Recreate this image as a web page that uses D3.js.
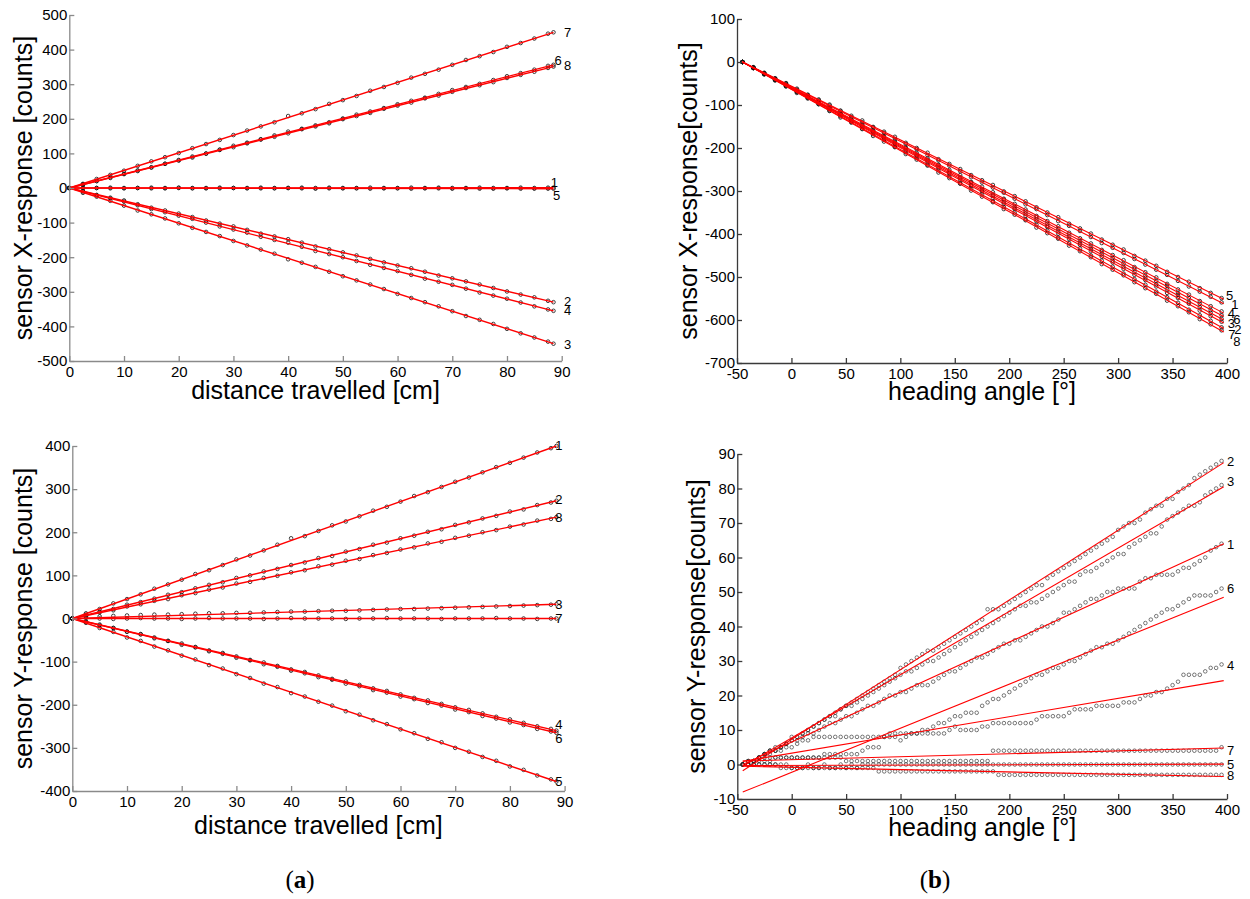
<!DOCTYPE html>
<html><head><meta charset="utf-8">
<script src="https://cdn.jsdelivr.net/npm/d3@7"></script>
<style>body{margin:0;background:#fff}svg{display:block}</style>
</head><body>
<svg id="c" width="1250" height="899"></svg>
<script>
// ---------- DATA ----------
const seriesNames = ["1","2","3","4","5","6","7","8"];

// panel (a) x samples: distance travelled [cm]
const distX = [0,2.5,5,7.5,10,12.5,15,17.5,20,22.5,25,27.5,30,32.5,35,37.5,40,42.5,45,47.5,50,52.5,55,57.5,60,62.5,65,67.5,70,72.5,75,77.5,80,82.5,85,87.5,88.5];

// (a) top: sensor X-response [counts], series 1..8
const aTopY = [
 [0,1,0,1,0,0,1,0,1,0, 0,1,0,0,1,0,0,1,0,1, 0,0,1,0,0,1,0,1,0,0, 1,0,0,1,0,1, 1],
 [0,-9,-20,-28,-36,-47,-57,-65,-74,-84, -94,-103,-111,-121,-132,-140,-148,-158,-169,-177, -186,-195,-205,-215,-224,-232,-242,-253,-261,-270, -279,-289,-299,-308,-316,-326, -330],
 [0,-14,-25,-37,-51,-65,-76,-88,-102,-115, -127,-139,-153,-166,-178,-190,-206,-216,-228,-242, -255,-267,-279,-292,-306,-318,-330,-342,-356,-370, -381,-393,-407,-420,-432,-444, -450],
 [0,-10,-21,-30,-39,-50,-61,-70,-80,-89, -100,-111,-120,-129,-141,-150,-158,-170,-182,-191, -200,-211,-222,-231,-240,-251,-262,-271,-280,-291, -302,-311,-320,-331,-342,-351, -355],
 [0,-1,0,-1,-1,0,-1,-1,0,-1, -1,-1,0,-1,-1,-1,0,-1,-2,-1, -1,-1,-2,-1,-1,-2,-1,-1,-2,-1, -2,-2,-1,-2,-2,-2, -2],
 [0,11,20,31,40,51,60,70,81,91, 100,111,122,131,141,152,163,171,181,190, 201,212,221,231,242,252,261,272,283,292, 301,312,323,332,342,353, 356],
 [0,12,26,38,50,64,77,89,101,115, 127,139,153,166,178,190,208,216,228,243, 254,266,281,292,304,319,330,342,356,370, 381,393,408,419,432,446, 450],
 [0,9,20,29,41,49,59,70,79,88, 99,110,118,129,140,148,158,170,178,187, 199,208,217,229,238,247,259,267,278,289, 297,306,318,327,336,347, 351]
];
// fitted lines (value at 0 cm, value at 88.5 cm)
const aTopFit = [[0,1],[0,-330],[0,-450],[0,-355],[0,-2],[0,356],[0,450],[0,351]];
const aTopLabelPos = [[88.0,16],[90.4,-327],[90.4,-451],[90.4,-355],[88.4,-23],[88.7,368],[90.4,448],[90.4,353]];

// (a) bottom: sensor Y-response [counts]
const aBotY = [
 [0,12,22,35,45,56,69,79,90,103, 112,124,137,146,158,171,186,191,203,216, 225,237,250,259,271,284,293,305,317,327, 339,351,361,373,385,395, 400],
 [0,9,16,22,32,38,46,55,61,70, 78,84,94,100,109,115,124,130,140,145, 155,161,171,176,186,192,201,207,217,223, 232,238,248,253,263,269, 273],
 [0,4,5,6,7,8,9,9,10,11, 12,12,13,13,14,15,16,16,17,18, 18,19,20,21,22,22,23,24,25,26, 27,28,29,30,31,32, 33],
 [0,-8,-14,-22,-30,-36,-44,-52,-58,-66, -74,-80,-88,-96,-102,-110,-118,-124,-132,-140, -146,-154,-162,-168,-176,-184,-190,-198,-206,-212, -220,-228,-234,-242,-250,-256, -260],
 [0,-10,-22,-31,-44,-52,-65,-74,-86,-95, -108,-116,-129,-138,-151,-159,-173,-181,-193,-202, -215,-223,-236,-245,-257,-266,-279,-287,-300,-309, -321,-330,-343,-351,-364,-373, -378],
 [0,-7,-16,-22,-31,-37,-46,-52,-61,-67, -76,-82,-91,-97,-106,-112,-121,-127,-136,-142, -151,-157,-166,-172,-181,-187,-196,-202,-211,-217, -226,-232,-241,-247,-256,-262, -265],
 [0,1,0,-1,0,1,0,0,-1,0, 1,0,0,0,-1,0,1,0,0,0, -1,0,0,1,0,0,0,-1,0,0, 0,1,0,0,-1,0, 0],
 [0,6,14,19,28,33,41,45,54,59, 67,72,81,85,94,99,107,112,121,125, 134,138,147,152,160,165,174,178,187,192, 200,205,213,218,227,231, 235]
];
const aBotFit = [[0,400],[0,273],[0,33],[0,-260],[0,-378],[0,-265],[0,0],[0,235]];
const aBotLabelPos = [[88.3,402],[88.3,275],[88.3,33],[88.3,-246],[88.3,-377],[88.3,-278],[88.3,-1],[88.3,235]];

// (b) top: heading angle [deg] samples
const headXTop = [-45,-35,-25,-15,-5,5,15,25,35,45,55,65,75,85,95,105,115,125,135,145,155,165,175,185,195,205,215,225,235,245,255,265,275,285,295,305,315,325,335,345,355,365,375,385,395];
const bTopY = [
 [0,-13,-26,-38,-50,-64,-77,-89,-101,-114, -128,-140,-152,-165,-179,-191,-203,-217,-229,-241, -254,-268,-280,-292,-304,-318,-331,-342,-356,-370, -381,-393,-407,-421,-432,-444,-458,-471,-483,-495, -509,-522,-534,-546,-559],
 [0,-14,-28,-41,-54,-69,-83,-96,-110,-123, -138,-151,-164,-179,-193,-206,-219,-234,-247,-260, -276,-288,-301,-317,-330,-342,-358,-371,-384,-399, -412,-425,-440,-453,-466,-481,-495,-507,-522,-537, -549,-562,-578,-591,-604],
 [0,-14,-27,-40,-55,-68,-81,-96,-109,-121, -136,-150,-163,-175,-190,-205,-217,-230,-245,-258, -271,-286,-299,-311,-326,-340,-353,-366,-381,-394, -406,-421,-435,-447,-462,-476,-488,-502,-517,-529, -542,-558,-570,-583,-597],
 [0,-13,-27,-40,-52,-66,-80,-92,-106,-120, -131,-145,-160,-172,-184,-199,-211,-224,-239,-251, -263,-279,-290,-303,-318,-330,-343,-358,-370,-382, -397,-410,-422,-437,-449,-461,-477,-489,-501,-516, -529,-541,-556,-568,-580],
 [0,-12,-25,-38,-49,-62,-76,-87,-99,-113, -125,-136,-151,-162,-174,-188,-200,-211,-226,-237, -249,-263,-275,-286,-301,-312,-324,-338,-350,-361, -376,-387,-399,-413,-425,-436,-451,-462,-474,-488, -500,-511,-526,-537,-549],
 [0,-13,-27,-41,-53,-67,-81,-94,-106,-121, -135,-147,-160,-175,-188,-200,-215,-228,-240,-255, -268,-280,-296,-308,-320,-336,-348,-361,-376,-388, -401,-416,-429,-441,-456,-469,-481,-497,-509,-521, -537,-549,-562,-577,-589],
 [0,-14,-28,-43,-56,-70,-83,-98,-113,-126, -139,-155,-168,-181,-197,-210,-223,-239,-252,-266, -282,-294,-308,-324,-337,-350,-366,-378,-392,-408, -421,-434,-450,-462,-476,-492,-505,-518,-534,-547, -560,-576,-589,-602,-617],
 [0,-14,-29,-42,-57,-72,-85,-98,-114,-129, -141,-156,-172,-185,-198,-214,-227,-241,-257,-270, -283,-299,-313,-326,-342,-355,-368,-385,-398,-411, -427,-440,-454,-470,-483,-496,-512,-526,-539,-555, -568,-582,-598,-610,-624]
];
// fitted lines (value at -45 deg, value at 397 deg)
const bTopFit = [[0,-562],[0,-607],[0,-600],[0,-584],[0,-552],[0,-592],[0,-620],[0,-628]];
const bTopLabelPos = [[404,-563],[406.7,-623],[400.6,-607],[400.6,-584],[399,-542],[405.8,-598],[401.2,-633],[405.8,-651]];

// (b) bottom samples
const headXBot = [-45,-40,-35,-30,-25,-20,-15,-10,-5,0,5,10,15,20,25,30,35,40,45,50,55,60,65,70,75,80,85,90,95,100,105,110,115,120,125,130,135,140,145,150,155,160,165,170,175,180,185,190,195,200,205,210,215,220,225,230,235,240,245,250,255,260,265,270,275,280,285,290,295,300,305,310,315,320,325,330,335,340,345,350,355,360,365,370,375,380,385,390,395];
const bBotY = [
 [0,1,1,2,3,4,4,5,6,7, 7,8,9,9,10,11,12,12,13,14, 14,15,16,17,17,18,19,20,20,21, 21,22,23,23,23,24,25,26,27,27, 28,29,30,31,31,32,33,34,35,35, 36,36,37,38,39,40,40,41,42,44, 44,45,46,47,48,48,49,50,50,51, 51,51,51,53,54,54,55,55,55,55, 56,57,57,58,59,60,62,63,64],
 [0,0,1,2,3,4,5,5,6,7, 8,9,10,11,12,13,14,15,16,17, 18,19,20,21,22,23,24,25,26,28, 29,30,31,32,33,33,34,35,36,37, 38,39,40,41,42,45,45,45,46,47, 48,49,50,51,52,52,54,55,56,57, 58,59,60,61,62,63,64,65,66,68, 69,70,70,71,73,74,75,75,77,77, 79,80,81,83,84,85,86,87,88],
 [0,0,1,2,3,4,4,5,6,8, 8,9,10,11,12,13,14,14,16,17, 17,18,19,20,21,22,23,24,25,26, 27,27,28,29,30,30,31,32,33,34, 35,36,37,38,39,40,41,42,43,44, 45,46,46,47,47,48,49,50,51,52, 53,53,55,56,56,57,58,59,60,61, 61,63,64,65,66,67,67,69,71,72, 73,74,75,75,76,78,79,80,81],
 [0,1,1,2,3,3,4,4,5,5, 6,7,7,8,8,8,8,8,8,8, 8,8,8,8,8,8,8,9,9,9, 9,9,9,9,9,9,9,9,10,11, 10,10,10,10,11,11,12,12,12,12, 12,12,12,12,13,14,14,14,14,14, 15,16,16,16,16,17,17,17,17,17, 18,18,18,19,20,20,21,21,22,23, 24,26,26,26,26,27,28,28,29],
 [0,0,0,0,0,0,0,0,0,-1, -1,-1,0,-1,-1,0,-1,-1,0,-1, 0,-1,0,0,0,0,0,0,0,0, 0,0,0,0,0,0,0,0,0,0, 0,0,0,0,0,0,0,0,0,0, 0,0,0,0,0,0,0,0,0,0, 0,0,0,0,0,0,0,0,0,0, 0,0,0,0,0,0,0,0,0,0, 0,0,0,0,0,0,0,0,0],
 [0,0,0,1,1,1,2,2,2,2, 2,2,2,2,2,3,3,3,3,3, 3,3,4,5,5,5,8,8,8,7, 8,9,9,10,10,11,12,12,13,14, 14,15,15,15,17,18,19,19,20,21, 22,23,24,25,26,26,27,28,28,29, 30,30,31,32,33,34,34,35,35,36, 37,38,39,40,41,42,43,44,45,45, 46,47,48,49,49,49,49,50,51],
 [0,1,1,2,2,2,2,2,2,2, 2,2,2,2,2,2,2,2,2,1, 1,1,1,1,1,1,1,1,1,1, 1,1,1,1,1,1,1,1,1,1, 1,1,1,1,1,1,4,4,4,4, 4,4,4,4,4,4,4,4,4,4, 4,4,4,4,4,4,4,4,4,4, 4,4,4,4,4,4,4,4,4,4, 4,4,4,4,4,4,4,4,5],
 [0,0,0,0,0,0,0,-1,-1,-1, -1,-1,-1,-1,-1,-1,-1,-1,-1,-1, -1,-1,-1,-1,-1,-2,-2,-2,-2,-2, -2,-2,-2,-2,-2,-2,-2,-2,-2,-2, -2,-2,-2,-2,-2,-2,-2,-3,-3,-3, -3,-3,-3,-3,-3,-3,-3,-3,-3,-3, -3,-3,-3,-3,-3,-3,-3,-3,-3,-3, -3,-3,-3,-3,-3,-3,-3,-3,-3,-3, -3,-3,-3,-3,-3,-3,-3,-3,-3]
];
const bBotFit = [[0,64],[-1.8,87.5],[-0.5,80.5],[0.9,24.3],[-0.3,0.1],[-8,48.5],[1.0,4.8],[-0.5,-3.5]];
const bBotLabelPos = [[400,63.7],[400,87.9],[400,81.9],[400,28.7],[400,0.1],[400,50.9],[400,4.1],[400,-3.2]];

// tick values
const distTicks = [0,10,20,30,40,50,60,70,80,90];
const headTicks = [-50,0,50,100,150,200,250,300,350,400];
const aTopTicks = [-500,-400,-300,-200,-100,0,100,200,300,400,500];
const aBotTicks = [-400,-300,-200,-100,0,100,200,300,400];
const bTopTicks = [-700,-600,-500,-400,-300,-200,-100,0,100];
const bBotTicks = [-10,0,10,20,30,40,50,60,70,80,90];

// ---------- DRAW ----------
const svg = d3.select('#c');
const SANS = '"Liberation Sans", Arial, Helvetica, sans-serif';

function panel(c) {
  const x = d3.scaleLinear().domain(c.xDomain).range([c.left, c.right]);
  const y = d3.scaleLinear().domain(c.yDomain).range([c.bottom, c.top]);
  const g = svg.append('g');

  c.ys.forEach(arr => {
    g.append('g').selectAll('circle')
      .data(arr.map((v, i) => [c.xs[i], v]))
      .join('circle')
      .attr('cx', d => x(d[0])).attr('cy', d => y(d[1]))
      .attr('r', 1.8).attr('fill', 'none')
      .attr('stroke', c.markerColor).attr('stroke-width', c.markerWidth);
  });

  g.append('g').selectAll('line').data(c.fits).join('line')
    .attr('x1', x(c.fitX[0])).attr('x2', x(c.fitX[1]))
    .attr('y1', d => y(d[0])).attr('y2', d => y(d[1]))
    .attr('stroke', '#ff0000').attr('stroke-width', c.lineWidth);

  const ax = g.append('g').attr('transform', `translate(0,${c.bottom})`)
    .call(d3.axisBottom(x).tickValues(c.xTicks).tickSize(-5).tickSizeOuter(0).tickPadding(5).tickFormat(d => String(d)));
  const ay = g.append('g').attr('transform', `translate(${c.left},0)`)
    .call(d3.axisLeft(y).tickValues(c.yTicks).tickSize(-5).tickSizeOuter(0).tickPadding(2).tickFormat(d => String(d)));
  [ax, ay].forEach(a => {
    a.selectAll('path,line').attr('stroke', c.axisColor).attr('stroke-width', 1.3);
    a.selectAll('text').attr('font-size', 15).attr('font-family', SANS).attr('fill', '#000');
  });

  g.append('g').selectAll('text').data(c.labels).join('text')
    .attr('x', d => x(d[0])).attr('y', d => y(d[1]))
    .attr('dominant-baseline', 'central')
    .attr('font-family', SANS).attr('font-size', 13).attr('fill', '#000')
    .text((d, i) => seriesNames[i]);

  g.append('text').attr('x', (c.left + c.right) / 2).attr('y', c.xTitleY)
    .attr('text-anchor', 'middle').attr('font-family', SANS).attr('font-size', 25)
    .text(c.xTitle);
  g.append('text')
    .attr('transform', `translate(${c.yTitleX},${(c.top + c.bottom) / 2}) rotate(-90)`)
    .attr('text-anchor', 'middle').attr('font-family', SANS).attr('font-size', 25)
    .text(c.yTitle);
}

panel({ left: 69.3, right: 561.7, top: 15, bottom: 361, xDomain: [0, 90], yDomain: [-500, 500],
  xs: distX, ys: aTopY, fits: aTopFit, fitX: [0, 88.5], labels: aTopLabelPos,
  xTicks: distTicks, yTicks: aTopTicks, axisColor: '#8a8a8a',
  markerColor: '#111', markerWidth: 0.8, lineWidth: 1.4,
  xTitle: 'distance travelled [cm]', xTitleY: 399, yTitle: 'sensor X-response [counts]', yTitleX: 32 });

panel({ left: 737, right: 1227, top: 19, bottom: 363, xDomain: [-50, 400], yDomain: [-700, 100],
  xs: headXTop, ys: bTopY, fits: bTopFit, fitX: [-45, 397], labels: bTopLabelPos,
  xTicks: headTicks, yTicks: bTopTicks, axisColor: '#3a3a3a',
  markerColor: '#111', markerWidth: 0.8, lineWidth: 1.1,
  xTitle: 'heading angle [°]', xTitleY: 400, yTitle: 'sensor X-response[counts]', yTitleX: 697 });

panel({ left: 72.3, right: 564.6, top: 446, bottom: 791, xDomain: [0, 90], yDomain: [-400, 400],
  xs: distX, ys: aBotY, fits: aBotFit, fitX: [0, 88.5], labels: aBotLabelPos,
  xTicks: distTicks, yTicks: aBotTicks, axisColor: '#8a8a8a',
  markerColor: '#111', markerWidth: 0.8, lineWidth: 1.4,
  xTitle: 'distance travelled [cm]', xTitleY: 834, yTitle: 'sensor Y-response [counts]', yTitleX: 32 });

panel({ left: 737.3, right: 1227, top: 454, bottom: 799, xDomain: [-50, 400], yDomain: [-10, 90],
  xs: headXBot, ys: bBotY, fits: bBotFit, fitX: [-45, 397], labels: bBotLabelPos,
  xTicks: headTicks, yTicks: bBotTicks, axisColor: '#3a3a3a',
  markerColor: '#222', markerWidth: 0.6, lineWidth: 1.1,
  xTitle: 'heading angle [°]', xTitleY: 836, yTitle: 'sensor Y-response[counts]', yTitleX: 705 });

// sub-figure captions
[["a", 300], ["b", 935]].forEach(([t, cx]) => {
  const tx = svg.append('text').attr('x', cx).attr('y', 888).attr('text-anchor', 'middle')
    .attr('font-family', '"Liberation Serif", "Times New Roman", serif').attr('font-size', 25);
  tx.append('tspan').text('(');
  tx.append('tspan').attr('font-weight', 'bold').text(t);
  tx.append('tspan').text(')');
});
</script>
</body></html>
